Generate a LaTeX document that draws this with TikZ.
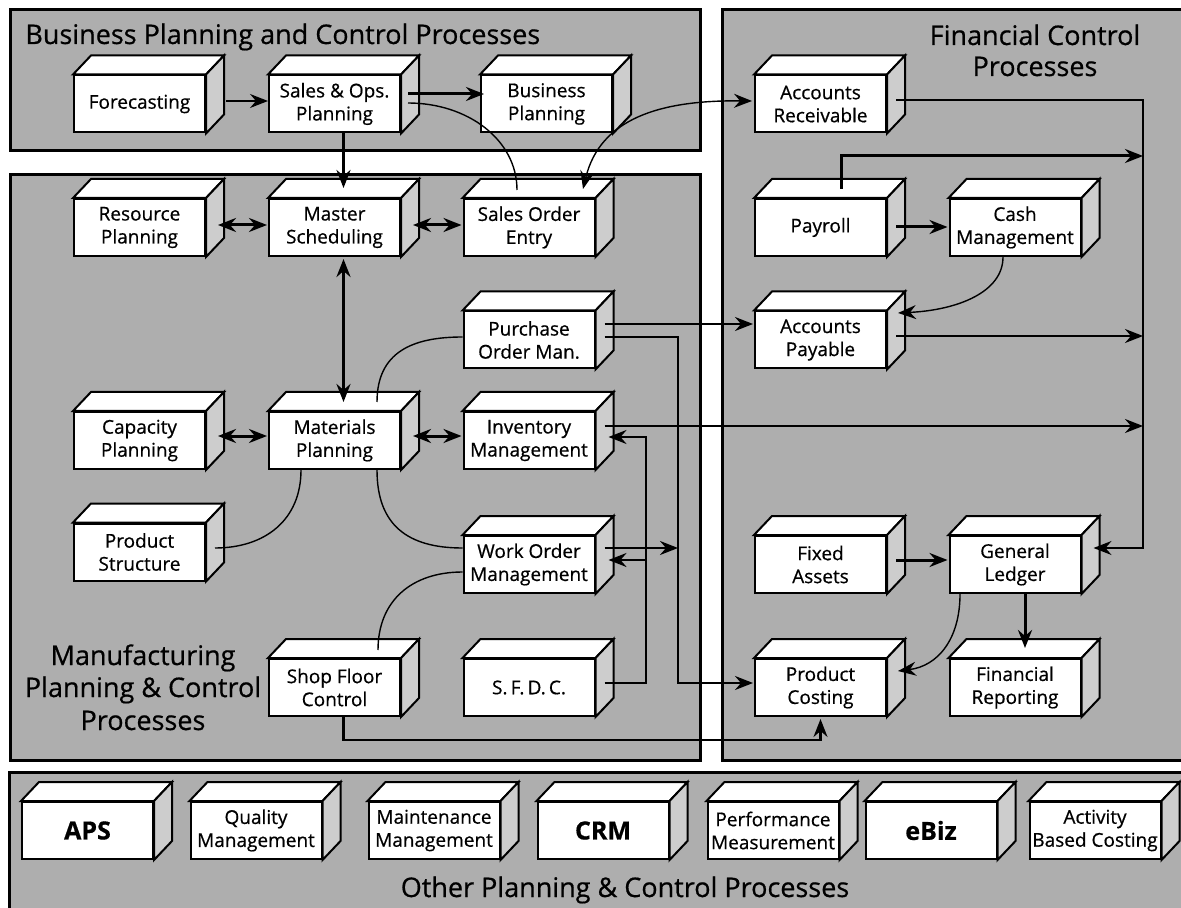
\documentclass[tikz,border=0pt]{standalone}
\usepackage{fontspec}
\setmainfont{Open Sans}[FakeBold=0.6]
\usetikzlibrary{arrows.meta,calc}

\definecolor{panelgray}{HTML}{AEAEAE}
\definecolor{sidegray}{HTML}{CDCDCD}

\tikzset{
  panel/.style={draw=black, line width=1.5pt, fill=panelgray},
  front/.style={draw=black, line width=1pt, fill=white, minimum width=65.5pt,
    minimum height=28.5pt, inner sep=0pt, align=center,
    font=\fontsize{9.5}{11.5}\selectfont},
  bigfront/.style={front, font=\fontsize{12.5}{14}\selectfont\bfseries},
  face/.style={draw=black, line width=1pt},
  paneltitle/.style={inner sep=0pt, anchor=base, font=\fontsize{13.5}{15}\selectfont},
  wthin/.style={line width=0.7pt},
  wmid/.style={line width=1.1pt},
  wheavy/.style={line width=1.5pt},
  arr/.style={-{Stealth[length=9pt,width=7pt,inset=3pt]}},
  arrs/.style={{Stealth[length=9pt,width=7pt,inset=3pt]}-{Stealth[length=9pt,width=7pt,inset=3pt]}},
}

% a process drawn as a box: front face node plus top and right faces
\newcommand\procbox[4][front]{%
  \node[#1] (#2) at (#3) {#4};
  \filldraw[face, fill=white] (#2.north west) -- ++(18,-19)
    -- ($(#2.north east)+(18,-19)$) -- (#2.north east) -- cycle;
  \filldraw[face, fill=sidegray] (#2.north east) -- ++(18,-19)
    -- ($(#2.south east)+(18,-19)$) -- (#2.south east) -- cycle;
}

\begin{document}
\begin{tikzpicture}[x=0.5pt, y=-0.5pt]
\useasboundingbox (0,0) rectangle (1181,908);
\fill[white] (0,0) rectangle (1181,908);

% process areas
\filldraw[panel] (10,10) rectangle (700,151);
\filldraw[panel] (10,175) rectangle (700,760);
\filldraw[panel] (722,10) rectangle (1195,760);
\filldraw[panel] (9,772) rectangle (1195,925);

\node[paneltitle, anchor=base west] (bpc) at (25,44) {Business Planning and Control Processes};
\node[paneltitle] (fcp1) at (1035,45) {Financial Control};
\node[paneltitle] (fcp2) at (1035,76) {Processes};
\node[paneltitle] (mpc1) at (143,665) {Manufacturing};
\node[paneltitle] (mpc2) at (143,697) {Planning \& Control};
\node[paneltitle] (mpc3) at (143,730) {Processes};
\node[paneltitle] (opc) at (625,897) {Other Planning \& Control Processes};

% business planning
\procbox{fc}{139.5,104}{Forecasting}
\procbox{so}{334.5,104}{Sales \& Ops.\\Planning}
\procbox{bp}{546.5,104}{Business\\Planning}

% manufacturing planning
\procbox{rp}{139.5,227.5}{Resource\\Planning}
\procbox{ms}{334.5,227.5}{Master\\Scheduling}
\procbox{soe}{529,227.5}{Sales Order\\Entry}
\procbox{po}{529,340}{Purchase\\Order Man.}
\procbox{cp}{139.5,440.5}{Capacity\\Planning}
\procbox{mp}{334.5,440.5}{Materials\\Planning}
\procbox{im}{529,440.5}{Inventory\\Management}
\procbox{ps}{139.5,552}{Product\\Structure}
\procbox{wo}{529,564.5}{Work Order\\Management}
\procbox{sfc}{334.5,687.5}{Shop Floor\\Control}
\procbox{sfdc}{529,687.5}{S.\,F.\,D.\,C.}

% financial control
\procbox{ar}{820.5,104}{Accounts\\Receivable}
\procbox{pr}{820.5,227.5}{Payroll}
\procbox{cm}{1015,227.5}{Cash\\Management}
\procbox{ap}{820.5,340}{Accounts\\Payable}
\procbox{fa}{820.5,564.5}{Fixed\\Assets}
\procbox{gl}{1015,564.5}{General\\Ledger}
\procbox{pc}{820.5,687.5}{Product\\Costing}
\procbox{fr}{1015,687.5}{Financial\\Reporting}

% other planning
\procbox[bigfront]{aps}{87.5,830.5}{APS}
\procbox{qm}{256,830.5}{Quality\\Management}
\procbox{mm}{434,830.5}{Maintenance\\Management}
\procbox[bigfront]{crm}{603,830.5}{CRM}
\procbox{pm}{773,830.5}{Performance\\Measurement}
\procbox[bigfront]{ebiz}{931,830.5}{eBiz}
\procbox{abc}{1095,830.5}{Activity\\Based Costing}

% bend points of the routed connectors
\coordinate (fin bus) at (1143,300);
\coordinate (po drop) at (678,500);
\coordinate (sfdc riser) at (646,600);
\coordinate (wo out) at ($(wo.east)+(9,-16.5)$);
\coordinate (wo back) at ($(wo.east)+(13,-4.5)$);
\coordinate (im out) at ($(im.east)+(9,-14.5)$);
\coordinate (ap out) at ($(ap.east)+(9,-4)$);
\coordinate (sfdc out) at ($(sfdc.east)+(9,-4.5)$);

% business planning links
\draw[wthin, arr] ($(fc.east)+(20,-3)$) -- ($(so.west)+(0,-3)$);
\draw[wheavy, arr] ($(so.east)+(7,-10)$) -- ($(bp.west)+(4,-10)$);
\draw[wthin] ($(so.east)+(7,-1)$) .. controls +(60,0) and +(0,-50) .. ($(soe.north)+(-12,-8)$);
\draw[wthin, arrs] ($(soe.north)+(54,-9)$) .. controls +(17,-70) and +(-93,-1) .. ($(ar.west)+(-2,-3)$);
\draw[wheavy, arr] ($(so.south)+(9,0)$) -- ($(ms.north)+(9,-10)$);

% manufacturing links
\draw[wheavy, arrs] ($(rp.east)+(12,-2.5)$) -- ($(ms.west)+(-1,-2.5)$);
\draw[wheavy, arrs] ($(ms.east)+(12,-2.5)$) -- ($(soe.west)+(-1,-2.5)$);
\draw[wheavy, arrs] ($(ms.south)+(9,2)$) -- ($(mp.north)+(9,-9)$);
\draw[wheavy, arrs] ($(cp.east)+(12,-4.5)$) -- ($(mp.west)+(-1,-4.5)$);
\draw[wheavy, arrs] ($(mp.east)+(12,-4.5)$) -- ($(im.west)+(-1,-4.5)$);
\draw[wthin] ($(mp.north)+(42.5,-9)$) .. controls +(0,-50) and +(-50,0) .. ($(po.west)+(0,-3)$);
\draw[wthin] ($(mp.south)+(42.5,0)$) .. controls +(0,55) and +(-55,0) .. ($(wo.west)+(0,-16.5)$);
\draw[wthin] ($(mp.south)+(-33.5,0)$) .. controls +(0,50) and +(50,0) .. ($(ps.east)+(9,-4)$);
\draw[wthin] ($(wo.west)+(0,7.5)$) .. controls +(-50,0) and +(0,-50) .. ($(sfc.north)+(43.5,-8)$);
\draw[wmid, arr] (wo out) -- (po drop |- wo out);
\draw[wmid, arr] ($(po.east)+(9,-3)$) -| (po drop) |- ($(pc.west)+(-1,-4.5)$);
\draw[wmid, arr] ($(po.east)+(9,-16)$) -- ($(ap.west)+(-1,-16)$);
\draw[wmid, arr] (sfdc out) -| (sfdc riser) |- ($(im.east)+(13,-3.5)$);
\draw[wmid, arr] (sfdc riser |- wo back) -- (wo back);
\draw[wmid, arr] (im out) -- (fin bus |- im out);
\draw[wmid, arr] ($(sfc.south)+(9,0)$) |- ($(pc.south)+(0,23)$) -- ($(pc.south)+(0,2)$);

% financial links
\draw[wthin, arr] ($(ar.east)+(9,-4)$) -| (fin bus) |- ($(gl.east)+(12,-16.5)$);
\draw[wheavy, arr] ($(pr.north)+(20.5,-9)$) |- ($(fin bus |- pr.north)+(0,-42)$);
\draw[wheavy, arr] ($(pr.east)+(9,-0.5)$) -- ($(cm.west)+(-1,-0.5)$);
\draw[wthin, arr] ($(cm.south)+(-12,0)$) .. controls +(0,35) and +(60,-3) .. ($(ap.east)+(11,-27)$);
\draw[wmid, arr] (ap out) -- (fin bus |- ap out);
\draw[wheavy, arr] ($(fa.east)+(9,-4.5)$) -- ($(gl.west)+(-1,-4.5)$);
\draw[wheavy, arr] ($(gl.south)+(10,0)$) -- ($(fr.north)+(10,-10)$);
\draw[wthin, arr] ($(gl.south)+(-55,0)$) .. controls +(0,45) and +(40,-5) .. ($(pc.east)+(11,-16.5)$);
\end{tikzpicture}
\end{document}
